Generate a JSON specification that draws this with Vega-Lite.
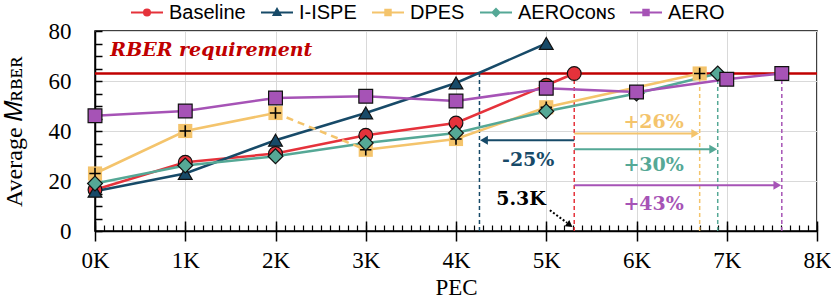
{
  "$schema": "https://vega.github.io/schema/vega-lite/v6.json",
  "width": 722,
  "height": 200,
  "autosize": "none",
  "padding": {"left": 95, "top": 31, "right": 14, "bottom": 68},
  "config": {"view": {"stroke": "black", "strokeWidth": 1.5}, "font": "Liberation Serif"},
  "resolve": {"axis": {"x": "independent", "y": "independent"}},
  "datasets": {
    "pts": [
      {"s": "DPES", "g": "a", "x": 0, "y": 23},
      {"s": "DPES", "g": "a", "x": 1, "y": 40},
      {"s": "DPES", "g": "a", "x": 2, "y": 47.2},
      {"s": "DPES", "g": "b", "x": 3, "y": 32.5},
      {"s": "DPES", "g": "b", "x": 4, "y": 36.8},
      {"s": "DPES", "g": "b", "x": 5, "y": 49.5},
      {"s": "DPES", "g": "b", "x": 6.7, "y": 63},
      {"s": "Baseline", "g": "a", "x": 0, "y": 16.5},
      {"s": "Baseline", "g": "a", "x": 1, "y": 27.5},
      {"s": "Baseline", "g": "a", "x": 2, "y": 31},
      {"s": "Baseline", "g": "a", "x": 3, "y": 38.3},
      {"s": "Baseline", "g": "a", "x": 4, "y": 43.2},
      {"s": "Baseline", "g": "a", "x": 5, "y": 58.3},
      {"s": "Baseline", "g": "a", "x": 5.31, "y": 63},
      {"s": "I-ISPE", "g": "a", "x": 0, "y": 15.9},
      {"s": "I-ISPE", "g": "a", "x": 1, "y": 23},
      {"s": "I-ISPE", "g": "a", "x": 2, "y": 36.3},
      {"s": "I-ISPE", "g": "a", "x": 3, "y": 47.2},
      {"s": "I-ISPE", "g": "a", "x": 4, "y": 59.2},
      {"s": "I-ISPE", "g": "a", "x": 5, "y": 75},
      {"s": "AERO_CONS", "g": "a", "x": 0, "y": 19},
      {"s": "AERO_CONS", "g": "a", "x": 1, "y": 26.2},
      {"s": "AERO_CONS", "g": "a", "x": 2, "y": 29.9},
      {"s": "AERO_CONS", "g": "a", "x": 3, "y": 35.2},
      {"s": "AERO_CONS", "g": "a", "x": 4, "y": 39.2},
      {"s": "AERO_CONS", "g": "a", "x": 5, "y": 47.9},
      {"s": "AERO_CONS", "g": "a", "x": 6, "y": 55},
      {"s": "AERO_CONS", "g": "a", "x": 6.9, "y": 63},
      {"s": "AERO", "g": "a", "x": 0, "y": 46.1},
      {"s": "AERO", "g": "a", "x": 1, "y": 48},
      {"s": "AERO", "g": "a", "x": 2, "y": 53.2},
      {"s": "AERO", "g": "a", "x": 3, "y": 53.9},
      {"s": "AERO", "g": "a", "x": 4, "y": 52},
      {"s": "AERO", "g": "a", "x": 5, "y": 57.1},
      {"s": "AERO", "g": "a", "x": 6, "y": 55.6},
      {"s": "AERO", "g": "a", "x": 7, "y": 60.7},
      {"s": "AERO", "g": "a", "x": 7.61, "y": 63}
    ],
    "dash": [
      {"s": "DPES", "x": 2, "y": 47.2},
      {"s": "DPES", "x": 3, "y": 32.5}
    ],
    "req": [{"y": 63, "x": 0.17, "ty": 72.3, "t": "RBER requirement"}],
    "vlines": [
      {"s": "I-ISPE", "x": 4.26, "y": 0, "y2": 63},
      {"s": "Baseline", "x": 5.31, "y": 0, "y2": 63},
      {"s": "DPES", "x": 6.7, "y": 0, "y2": 63},
      {"s": "AERO_CONS", "x": 6.9, "y": 0, "y2": 63},
      {"s": "AERO", "x": 7.61, "y": 0, "y2": 63}
    ],
    "arrows": [
      {"s": "I-ISPE", "x": 5.31, "x2": 4.31, "hx": 4.31, "y": 36.3, "dir": "left"},
      {"s": "DPES", "x": 5.31, "x2": 6.65, "hx": 6.65, "y": 39, "dir": "right"},
      {"s": "AERO_CONS", "x": 5.31, "x2": 6.85, "hx": 6.85, "y": 32.7, "dir": "right"},
      {"s": "AERO", "x": 5.31, "x2": 7.56, "hx": 7.56, "y": 18.3, "dir": "right"}
    ],
    "labels": [
      {"s": "I-ISPE", "t": "-25%", "x": 4.8, "y": 28.6},
      {"s": "DPES", "t": "+26%", "x": 6.19, "y": 43.6},
      {"s": "AERO_CONS", "t": "+30%", "x": 6.19, "y": 26.3},
      {"s": "AERO", "t": "+43%", "x": 6.19, "y": 11}
    ],
    "note": [{"t": "5.3K", "x": 4.72, "y": 13, "ax": 5.04, "ay": 8.3, "ax2": 5.23, "ay2": 3.3, "hx": 5.26, "hy": 2.4}]
  },
  "layer": [
    {
      "data": {"name": "req"},
      "mark": {"type": "rule", "color": "#C00000", "strokeWidth": 2.5},
      "encoding": {
        "y": {"field": "y", "type": "quantitative", "axis": null}
      }
    },
    {
      "data": {"name": "req"},
      "mark": {"type": "text", "color": "#C00000", "font": "DejaVu Serif", "fontSize": 19, "fontWeight": "bold", "fontStyle": "italic", "align": "left", "baseline": "middle"},
      "encoding": {
        "x": {
          "field": "x", "type": "quantitative",
          "scale": {"domain": [0, 8], "nice": false, "zero": false},
          "axis": {
            "orient": "bottom",
            "values": [0, 1, 2, 3, 4, 5, 6, 7, 8],
            "labelExpr": "datum.value + 'K'",
            "tickSize": 10,
            "grid": true, "gridColor": "#d9d9d9", "gridWidth": 1,
            "domainColor": "black", "domainWidth": 1.5, "tickColor": "black", "tickWidth": 1.5,
            "labelFont": "Liberation Serif", "labelFontSize": 23, "labelColor": "black", "labelPadding": 8,
            "labelOverlap": false, "labelFlush": false,
            "title": "PEC", "titleFont": "Liberation Serif", "titleFontSize": 23,
            "titleFontWeight": "normal", "titleColor": "black", "titlePadding": 4
          }
        },
        "y": {
          "field": "ty", "type": "quantitative",
          "scale": {"domain": [0, 80], "nice": false, "zero": false},
          "axis": {
            "orient": "left",
            "values": [0, 20, 40, 60, 80],
            "ticks": false,
            "grid": true, "gridColor": "#d9d9d9", "gridWidth": 1,
            "domainColor": "black", "domainWidth": 1.5,
            "labelFont": "Liberation Serif", "labelFontSize": 23, "labelColor": "black", "labelPadding": 24,
            "labelOverlap": false, "labelFlush": false,
            "title": "Average 𝑀ʀʙᴇʀ", "titleFont": "Liberation Serif", "titleFontSize": 24,
            "titleFontWeight": "normal", "titleColor": "black", "titlePadding": 22
          }
        },
        "text": {"field": "t"}
      }
    },
    {
      "data": {"name": "vlines"},
      "mark": {"type": "rule", "strokeWidth": 1.5, "strokeDash": [4, 3]},
      "encoding": {
        "x": {
          "field": "x", "type": "quantitative",
          "axis": {
            "orient": "bottom", "offset": -6,
            "values": [0, 0.1, 0.2, 0.3, 0.4, 0.5, 0.6, 0.7, 0.8, 0.9, 1, 1.1, 1.2, 1.3, 1.4, 1.5, 1.6, 1.7, 1.8, 1.9, 2, 2.1, 2.2, 2.3, 2.4, 2.5, 2.6, 2.7, 2.8, 2.9, 3, 3.1, 3.2, 3.3, 3.4, 3.5, 3.6, 3.7, 3.8, 3.9, 4, 4.1, 4.2, 4.3, 4.4, 4.5, 4.6, 4.7, 4.8, 4.9, 5, 5.1, 5.2, 5.3, 5.4, 5.5, 5.6, 5.7, 5.8, 5.9, 6, 6.1, 6.2, 6.3, 6.4, 6.5, 6.6, 6.7, 6.8, 6.9, 7, 7.1, 7.2, 7.3, 7.4, 7.5, 7.6, 7.7, 7.8, 7.9, 8],
            "labels": false, "domain": false, "grid": false, "title": null,
            "tickSize": 6, "tickColor": "black", "tickWidth": 1.2
          }
        },
        "y": {
          "field": "y", "type": "quantitative",
          "axis": {
            "orient": "left", "offset": -7,
            "values": [0, 5, 10, 15, 20, 25, 30, 35, 40, 45, 50, 55, 60, 65, 70, 75, 80],
            "labels": false, "domain": false, "grid": false, "title": null,
            "tickSize": 7, "tickColor": "black", "tickWidth": 1.5
          }
        },
        "y2": {"field": "y2"},
        "color": {"field": "s", "type": "nominal", "scale": {"domain": ["Baseline", "I-ISPE", "DPES", "AERO_CONS", "AERO"], "range": ["#E5323B", "#174A68", "#F4C46C", "#55A896", "#A653B6"]}}
      }
    },
    {
      "data": {"name": "arrows"},
      "mark": {"type": "rule", "strokeWidth": 2.2},
      "encoding": {
        "x": {
          "field": "x", "type": "quantitative",
          "axis": {
            "orient": "bottom", "offset": -10,
            "values": [0, 1, 2, 3, 4, 5, 6, 7, 8],
            "labels": false, "domain": false, "grid": false, "title": null,
            "tickSize": 10, "tickColor": "black", "tickWidth": 1.5
          }
        },
        "x2": {"field": "x2"},
        "y": {"field": "y", "type": "quantitative", "axis": null},
        "color": {"field": "s", "type": "nominal", "scale": {"domain": ["Baseline", "I-ISPE", "DPES", "AERO_CONS", "AERO"], "range": ["#E5323B", "#174A68", "#F4C46C", "#55A896", "#A653B6"]}}
      }
    },
    {
      "data": {"name": "arrows"},
      "transform": [{"filter": "datum.dir === 'left'"}],
      "mark": {"type": "point", "filled": true, "opacity": 1, "size": 80, "shape": "triangle-left"},
      "encoding": {
        "x": {"field": "hx", "type": "quantitative", "axis": null},
        "y": {"field": "y", "type": "quantitative", "axis": null},
        "color": {"field": "s", "type": "nominal", "scale": {"domain": ["Baseline", "I-ISPE", "DPES", "AERO_CONS", "AERO"], "range": ["#E5323B", "#174A68", "#F4C46C", "#55A896", "#A653B6"]}}
      }
    },
    {
      "data": {"name": "arrows"},
      "transform": [{"filter": "datum.dir === 'right'"}],
      "mark": {"type": "point", "filled": true, "opacity": 1, "size": 80, "shape": "triangle-right"},
      "encoding": {
        "x": {"field": "hx", "type": "quantitative", "axis": null},
        "y": {"field": "y", "type": "quantitative", "axis": null},
        "color": {"field": "s", "type": "nominal", "scale": {"domain": ["Baseline", "I-ISPE", "DPES", "AERO_CONS", "AERO"], "range": ["#E5323B", "#174A68", "#F4C46C", "#55A896", "#A653B6"]}}
      }
    },
    {
      "data": {"name": "pts"},
      "mark": {"type": "line", "strokeWidth": 2.5},
      "encoding": {
        "x": {"field": "x", "type": "quantitative", "axis": null},
        "y": {"field": "y", "type": "quantitative", "axis": null},
        "detail": {"field": "g"},
        "color": {"field": "s", "type": "nominal", "scale": {"domain": ["Baseline", "I-ISPE", "DPES", "AERO_CONS", "AERO"], "range": ["#E5323B", "#174A68", "#F4C46C", "#55A896", "#A653B6"]}}
      }
    },
    {
      "data": {"name": "dash"},
      "mark": {"type": "line", "strokeWidth": 2.5, "strokeDash": [7, 5]},
      "encoding": {
        "x": {"field": "x", "type": "quantitative", "axis": null},
        "y": {"field": "y", "type": "quantitative", "axis": null},
        "color": {"field": "s", "type": "nominal", "scale": {"domain": ["Baseline", "I-ISPE", "DPES", "AERO_CONS", "AERO"], "range": ["#E5323B", "#174A68", "#F4C46C", "#55A896", "#A653B6"]}}
      }
    },
    {
      "data": {"name": "pts"},
      "transform": [{"filter": "datum.s === 'DPES'"}],
      "mark": {"type": "point", "filled": true, "opacity": 1, "shape": "square", "size": 200},
      "encoding": {
        "x": {"field": "x", "type": "quantitative", "axis": null},
        "y": {"field": "y", "type": "quantitative", "axis": null},
        "color": {"field": "s", "type": "nominal", "scale": {"domain": ["Baseline", "I-ISPE", "DPES", "AERO_CONS", "AERO"], "range": ["#E5323B", "#174A68", "#F4C46C", "#55A896", "#A653B6"]}}
      }
    },
    {
      "data": {"name": "pts"},
      "transform": [{"filter": "datum.s === 'DPES'"}],
      "mark": {"type": "point", "filled": false, "opacity": 1, "shape": "M-0.8,0H0.8M0,-0.8V0.8", "size": 200, "stroke": "black", "strokeWidth": 1.6},
      "encoding": {
        "x": {"field": "x", "type": "quantitative", "axis": null},
        "y": {"field": "y", "type": "quantitative", "axis": null}
      }
    },
    {
      "data": {"name": "pts"},
      "transform": [{"filter": "datum.s === 'Baseline'"}],
      "mark": {"type": "point", "filled": true, "opacity": 1, "size": 190, "shape": "circle", "stroke": "#111111", "strokeWidth": 1.2},
      "encoding": {
        "x": {"field": "x", "type": "quantitative", "axis": null},
        "y": {"field": "y", "type": "quantitative", "axis": null},
        "color": {"field": "s", "type": "nominal", "scale": {"domain": ["Baseline", "I-ISPE", "DPES", "AERO_CONS", "AERO"], "range": ["#E5323B", "#174A68", "#F4C46C", "#55A896", "#A653B6"]}}
      }
    },
    {
      "data": {"name": "pts"},
      "transform": [{"filter": "datum.s === 'I-ISPE'"}],
      "mark": {"type": "point", "filled": true, "opacity": 1, "size": 190, "shape": "triangle-up", "stroke": "#111111", "strokeWidth": 1.2},
      "encoding": {
        "x": {"field": "x", "type": "quantitative", "axis": null},
        "y": {"field": "y", "type": "quantitative", "axis": null},
        "color": {"field": "s", "type": "nominal", "scale": {"domain": ["Baseline", "I-ISPE", "DPES", "AERO_CONS", "AERO"], "range": ["#E5323B", "#174A68", "#F4C46C", "#55A896", "#A653B6"]}}
      }
    },
    {
      "data": {"name": "pts"},
      "transform": [{"filter": "datum.s === 'AERO_CONS'"}],
      "mark": {"type": "point", "filled": true, "opacity": 1, "size": 220, "shape": "diamond", "stroke": "#111111", "strokeWidth": 1.2},
      "encoding": {
        "x": {"field": "x", "type": "quantitative", "axis": null},
        "y": {"field": "y", "type": "quantitative", "axis": null},
        "color": {"field": "s", "type": "nominal", "scale": {"domain": ["Baseline", "I-ISPE", "DPES", "AERO_CONS", "AERO"], "range": ["#E5323B", "#174A68", "#F4C46C", "#55A896", "#A653B6"]}}
      }
    },
    {
      "data": {"name": "pts"},
      "transform": [{"filter": "datum.s === 'AERO'"}],
      "mark": {"type": "point", "filled": true, "opacity": 1, "size": 190, "shape": "square", "stroke": "#111111", "strokeWidth": 1.2},
      "encoding": {
        "x": {"field": "x", "type": "quantitative", "axis": null},
        "y": {"field": "y", "type": "quantitative", "axis": null},
        "color": {"field": "s", "type": "nominal", "scale": {"domain": ["Baseline", "I-ISPE", "DPES", "AERO_CONS", "AERO"], "range": ["#E5323B", "#174A68", "#F4C46C", "#55A896", "#A653B6"]}}
      }
    },
    {
      "data": {"name": "labels"},
      "mark": {"type": "text", "font": "DejaVu Serif", "fontSize": 19, "fontWeight": "bold", "align": "center", "baseline": "middle"},
      "encoding": {
        "x": {"field": "x", "type": "quantitative", "axis": null},
        "y": {"field": "y", "type": "quantitative", "axis": null},
        "text": {"field": "t"},
        "color": {"field": "s", "type": "nominal", "scale": {"domain": ["Baseline", "I-ISPE", "DPES", "AERO_CONS", "AERO"], "range": ["#E5323B", "#174A68", "#F4C46C", "#55A896", "#A653B6"]}}
      }
    },
    {
      "data": {"name": "note"},
      "mark": {"type": "text", "font": "DejaVu Serif", "fontSize": 19, "fontWeight": "bold", "align": "center", "baseline": "middle", "color": "black"},
      "encoding": {
        "x": {"field": "x", "type": "quantitative", "axis": null},
        "y": {"field": "y", "type": "quantitative", "axis": null},
        "text": {"field": "t"}
      }
    },
    {
      "data": {"name": "note"},
      "mark": {"type": "rule", "color": "black", "strokeWidth": 2, "strokeDash": [2, 2]},
      "encoding": {
        "x": {"field": "ax", "type": "quantitative", "axis": null},
        "y": {"field": "ay", "type": "quantitative", "axis": null},
        "x2": {"field": "ax2"},
        "y2": {"field": "ay2"}
      }
    },
    {
      "data": {"name": "note"},
      "mark": {"type": "point", "filled": true, "opacity": 1, "color": "black", "shape": "triangle-up", "size": 60, "angle": 126},
      "encoding": {
        "x": {"field": "hx", "type": "quantitative", "axis": null},
        "y": {"field": "hy", "type": "quantitative", "axis": null}
      }
    },
    {
      "data": {"name": "pts"},
      "transform": [{"filter": "false"}],
      "mark": {"type": "point", "filled": true, "opacity": 1, "size": 1024, "strokeWidth": 2},
      "encoding": {
        "x": {"field": "x", "type": "quantitative", "axis": null},
        "y": {"field": "y", "type": "quantitative", "axis": null},
        "color": {
          "field": "s", "type": "nominal",
          "scale": {"domain": ["Baseline", "I-ISPE", "DPES", "AERO_CONS", "AERO"], "range": ["#E5323B", "#174A68", "#F4C46C", "#55A896", "#A653B6"]},
          "legend": {
            "orient": "none", "legendX": 35, "legendY": -35.5, "direction": "horizontal", "columns": 5,
            "gridAlign": "none", "columnPadding": 11, "padding": 0, "title": null, "symbolSize": 1024,
            "labelFont": "Liberation Sans", "labelFontSize": 20, "labelColor": "black", "labelOffset": 5,
            "symbolStrokeWidth": 2,
            "labelExpr": "datum.label === 'AERO_CONS' ? 'AEROᴄᴏɴꜱ\u00a0\u00a0' : datum.label === 'Baseline' ? 'Baseline\u00a0\u00a0\u00a0\u00a0\u00a0\u00a0' : datum.label === 'I-ISPE' ? 'I-ISPE\u00a0\u00a0\u00a0' : datum.label === 'DPES' ? 'DPES\u00a0\u00a0\u00a0\u00a0\u00a0\u00a0' : datum.label"
          }
        },
        "stroke": {
          "field": "s", "type": "nominal",
          "scale": {"domain": ["Baseline", "I-ISPE", "DPES", "AERO_CONS", "AERO"], "range": ["#E5323B", "#174A68", "#F4C46C", "#55A896", "#A653B6"]},
          "legend": {
            "orient": "none", "legendX": 35, "legendY": -35.5, "direction": "horizontal", "columns": 5,
            "gridAlign": "none", "columnPadding": 11, "padding": 0, "title": null, "symbolSize": 1024,
            "labelFont": "Liberation Sans", "labelFontSize": 20, "labelColor": "black", "labelOffset": 5,
            "symbolStrokeWidth": 2,
            "labelExpr": "datum.label === 'AERO_CONS' ? 'AEROᴄᴏɴꜱ\u00a0\u00a0' : datum.label === 'Baseline' ? 'Baseline\u00a0\u00a0\u00a0\u00a0\u00a0\u00a0' : datum.label === 'I-ISPE' ? 'I-ISPE\u00a0\u00a0\u00a0' : datum.label === 'DPES' ? 'DPES\u00a0\u00a0\u00a0\u00a0\u00a0\u00a0' : datum.label"
          }
        },
        "shape": {
          "field": "s", "type": "nominal",
          "scale": {"domain": ["Baseline", "I-ISPE", "DPES", "AERO_CONS", "AERO"], "range": ["M-1,0H1M0.19,0A0.19,0.19,0,1,1,-0.19,0A0.19,0.19,0,1,1,0.19,0Z", "M-1,0H1M0,-0.22L0.21,0.15H-0.21Z", "M-1,0H1M-0.17,-0.17H0.17V0.17H-0.17Z", "M-1,0H1M0,-0.22L0.22,0L0,0.22L-0.22,0Z", "M-1,0H1M-0.17,-0.17H0.17V0.17H-0.17Z"]},
          "legend": {
            "orient": "none", "legendX": 35, "legendY": -35.5, "direction": "horizontal", "columns": 5,
            "gridAlign": "none", "columnPadding": 11, "padding": 0, "title": null, "symbolSize": 1024,
            "labelFont": "Liberation Sans", "labelFontSize": 20, "labelColor": "black", "labelOffset": 5,
            "symbolStrokeWidth": 2,
            "labelExpr": "datum.label === 'AERO_CONS' ? 'AEROᴄᴏɴꜱ\u00a0\u00a0' : datum.label === 'Baseline' ? 'Baseline\u00a0\u00a0\u00a0\u00a0\u00a0\u00a0' : datum.label === 'I-ISPE' ? 'I-ISPE\u00a0\u00a0\u00a0' : datum.label === 'DPES' ? 'DPES\u00a0\u00a0\u00a0\u00a0\u00a0\u00a0' : datum.label"
          }
        }
      }
    }
  ]
}
